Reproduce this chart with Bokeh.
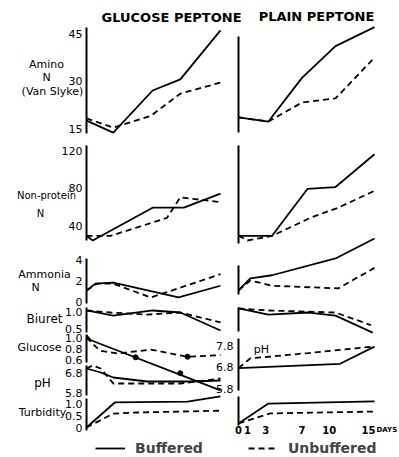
from bokeh.plotting import figure
from bokeh.models import Range1d, Legend, LegendItem
from bokeh.core.properties import value
from bokeh.embed import file_html
from bokeh.resources import INLINE

W, H = 399, 457

# ---------------- data (days, values) ----------------
# Glucose peptone (left column)
gp_amino_b_days = [0, 3, 7.4, 10.5, 15]
gp_amino_b = [17.5, 13.7, 27.0, 30.5, 46.0]
gp_amino_u_days = [0, 3, 7.2, 10.5, 15]
gp_amino_u = [18.2, 15.3, 19.0, 26.0, 29.5]

gp_npn_b_days = [0, 0.7, 7.4, 10.9, 15]
gp_npn_b = [29, 24, 59, 59, 74]
gp_npn_u_days = [0, 2.7, 9.0, 10.5, 15]
gp_npn_u = [29, 29, 48, 70, 65]

gp_nh3_b_days = [0, 1, 3, 10.3, 15]
gp_nh3_b = [1.05, 1.7, 1.8, 0.4, 1.5]
gp_nh3_u_days = [0, 1.2, 3, 7.2, 15]
gp_nh3_u = [1.05, 1.7, 1.7, 0.38, 2.6]

gp_biuret_b_days = [0, 3, 7.4, 10.5, 15]
gp_biuret_b = [1.03, 0.88, 1.03, 0.97, 0.44]
gp_biuret_u_days = [0, 2.7, 6.8, 10.5, 15]
gp_biuret_u = [1.03, 0.97, 0.91, 0.97, 0.68]

gp_glucose_b_days = [0, 0.5, 15]
gp_glucose_b = [1.04, 0.95, 0.04]
gp_glucose_b_mark_days = [5.5, 10.5]
gp_glucose_b_marks = [0.64, 0.35]
gp_glucose_u_days = [0, 1.5, 3.5, 7.2, 11.3, 15]
gp_glucose_u = [1.0, 0.76, 0.71, 0.78, 0.65, 0.68]
gp_glucose_u_mark_days = [11.3]
gp_glucose_u_marks = [0.65]

gp_ph_b_days = [0, 1.6, 3, 6.8, 11.6, 15]
gp_ph_b = [7.0, 6.8, 6.55, 6.35, 6.35, 6.4]
gp_ph_u_days = [0, 0.7, 1.6, 3, 10.5, 15]
gp_ph_u = [7.0, 7.15, 7.0, 6.25, 6.25, 6.5]

gp_turb_b_days = [0, 3.2, 11.3, 15]
gp_turb_b = [0, 1.05, 1.08, 1.3]
gp_turb_u_days = [0, 3, 5.2, 15]
gp_turb_u = [0, 0.58, 0.62, 0.7]

# Plain peptone (right column)
pp_amino_b_days = [0, 3.3, 7, 10.7, 15]
pp_amino_b = [18.5, 17.2, 31, 41, 47]
pp_amino_u_days = [0, 3.3, 7, 10.7, 15]
pp_amino_u = [18.5, 17.2, 23.2, 24.5, 37.4]

pp_npn_b_days = [0, 3.7, 7.6, 10.7, 15]
pp_npn_b = [29, 29, 79, 81, 116]
pp_npn_u_days = [0, 1, 3.7, 8, 11, 15]
pp_npn_u = [29, 24, 29, 48.5, 59, 77]

pp_nh3_b_days = [0, 1.3, 3.7, 10.7, 15]
pp_nh3_b = [1.05, 2.2, 2.5, 4.1, 6.0]
pp_nh3_u_days = [0, 1.3, 3.7, 11, 15]
pp_nh3_u = [1.05, 2.0, 1.5, 1.25, 3.2]

pp_biuret_b_days = [0, 3.3, 7.7, 10.7, 14.8]
pp_biuret_b = [1.09, 0.91, 0.97, 0.88, 0.38]
pp_biuret_u_days = [0, 3.3, 10.7, 14.6]
pp_biuret_u = [1.09, 1.03, 0.97, 0.6]

pp_ph_b_days = [0, 11.2, 15]
pp_ph_b = [6.75, 6.95, 7.75]
pp_ph_u_days = [0, 1.3, 7.7, 14.8]
pp_ph_u = [6.75, 7.2, 7.45, 7.75]

pp_turb_b_days = [0, 3.3, 15]
pp_turb_b = [0, 0.83, 0.92]
pp_turb_u_days = [0, 3.5, 15.2]
pp_turb_u = [0, 0.42, 0.5]

# tick labels
amino_ticks = [15, 30, 45]
npn_ticks = [40, 80, 120]
nh3_ticks = [0, 2, 4]
biuret_ticks = [0.5, 1.0]
glucose_ticks = [0.6, 0.8, 1.0]
ph_ticks = [5.8, 6.8]
turb_ticks = [0, 0.5, 1.0]
ph_r_ticks = [5.8, 6.8, 7.8]
day_ticks = [0, 1, 3, 7, 10]
day_last = [15]

# ---------------- layout calibration ----------------
LEFT_X = (86, 220)     # pixel of day 0 and day 15
RIGHT_X = (238, 374)
CAL = {
    "amino": ((15, 128), (45, 33)),
    "npn": ((40, 225), (120, 150)),
    "nh3": ((0, 301), (4, 259)),
    "biuret": ((0.5, 328), (1.0, 311)),
    "glucose": ((0.6, 359), (1.0, 337)),
    "ph": ((5.8, 392), (6.8, 372)),
    "turb": ((0, 427), (1.0, 403)),
    "ph_r": ((5.8, 388), (7.8, 345)),
    "turb_r": ((0, 423), (1.0, 399)),
}


def xrange_from(px0, px15):
    k = 15.0 / (px15 - px0)
    start = -px0 * k
    return Range1d(start=start, end=start + W * k)


def yrange_from(cal):
    (v1, p1), (v2, p2) = cal
    k = (v2 - v1) / (p1 - p2)
    return Range1d(start=v1 - (H - p1) * k, end=v1 + p1 * k)


p = figure(width=W, height=H, x_range=Range1d(0, W), y_range=Range1d(H, 0),
           x_axis_type=None, y_axis_type=None, min_border=0,
           toolbar_location=None, output_backend="svg",
           outline_line_color=None, background_fill_color="white")
p.extra_x_ranges = {"L": xrange_from(*LEFT_X), "R": xrange_from(*RIGHT_X)}
p.extra_y_ranges = {k: yrange_from(v) for k, v in CAL.items()}

LW = 1.8
DASH = "6 4"


def draw(side, panel, d, v, dashed):
    return p.line(d, v, x_range_name=side, y_range_name=panel,
                  line_color="black", line_width=LW,
                  line_dash=DASH if dashed else "solid")


r_b = draw("L", "amino", gp_amino_b_days, gp_amino_b, False)
r_u = draw("L", "amino", gp_amino_u_days, gp_amino_u, True)
draw("L", "npn", gp_npn_b_days, gp_npn_b, False)
draw("L", "npn", gp_npn_u_days, gp_npn_u, True)
draw("L", "nh3", gp_nh3_b_days, gp_nh3_b, False)
draw("L", "nh3", gp_nh3_u_days, gp_nh3_u, True)
draw("L", "biuret", gp_biuret_b_days, gp_biuret_b, False)
draw("L", "biuret", gp_biuret_u_days, gp_biuret_u, True)
draw("L", "glucose", gp_glucose_b_days, gp_glucose_b, False)
draw("L", "glucose", gp_glucose_u_days, gp_glucose_u, True)
draw("L", "ph", gp_ph_b_days, gp_ph_b, False)
draw("L", "ph", gp_ph_u_days, gp_ph_u, True)
draw("L", "turb", gp_turb_b_days, gp_turb_b, False)
draw("L", "turb", gp_turb_u_days, gp_turb_u, True)
p.scatter(gp_glucose_b_mark_days, gp_glucose_b_marks, x_range_name="L",
          y_range_name="glucose", size=5, color="black")
p.scatter(gp_glucose_u_mark_days, gp_glucose_u_marks, x_range_name="L",
          y_range_name="glucose", size=5, color="black")

draw("R", "amino", pp_amino_b_days, pp_amino_b, False)
draw("R", "amino", pp_amino_u_days, pp_amino_u, True)
draw("R", "npn", pp_npn_b_days, pp_npn_b, False)
draw("R", "npn", pp_npn_u_days, pp_npn_u, True)
draw("R", "nh3", pp_nh3_b_days, pp_nh3_b, False)
draw("R", "nh3", pp_nh3_u_days, pp_nh3_u, True)
draw("R", "biuret", pp_biuret_b_days, pp_biuret_b, False)
draw("R", "biuret", pp_biuret_u_days, pp_biuret_u, True)
draw("R", "ph_r", pp_ph_b_days, pp_ph_b, False)
draw("R", "ph_r", pp_ph_u_days, pp_ph_u, True)
draw("R", "turb_r", pp_turb_b_days, pp_turb_b, False)
draw("R", "turb_r", pp_turb_u_days, pp_turb_u, True)

# broken axis lines (pixel layout)
left_axis_spans = [(27, 133), (145, 240), (258, 303), (307, 332), (334, 362), (365, 395), (398, 430)]
right_axis_spans = [(36, 132), (145, 243), (265, 294), (307, 331), (338, 390), (396, 425)]
for xpix, spans in ((LEFT_X[0], left_axis_spans), (RIGHT_X[0], right_axis_spans)):
    p.segment(x0=[xpix] * len(spans), x1=[xpix] * len(spans),
              y0=[s[0] for s in spans], y1=[s[1] for s in spans],
              line_color="black", line_width=2)

FONT = value("DejaVu Sans")


def label(xs, ys, texts, size, align="center", style="normal", **kw):
    p.text(x=xs, y=ys, text=texts, text_font=FONT, text_font_size=size,
           text_font_style=style, text_align=align, text_baseline="middle",
           text_color="black", **kw)


# y tick labels
def ticks(xpix, panel, vals, fmt):
    label([xpix] * len(vals), vals, [fmt(v) for v in vals], "11px",
          align="right", y_range_name=panel)


ticks(82, "amino", amino_ticks, lambda v: str(v))
ticks(82, "npn", npn_ticks, lambda v: str(v))
ticks(82, "nh3", nh3_ticks, lambda v: str(v))
ticks(82, "biuret", biuret_ticks, lambda v: f"{v:.1f}")
ticks(82, "glucose", glucose_ticks, lambda v: f"{v:.1f}")
ticks(82, "ph", ph_ticks, lambda v: f"{v:.1f}")
ticks(82, "turb", turb_ticks, lambda v: "0" if v == 0 else f"{v:.1f}")
ticks(233, "ph_r", ph_r_ticks, lambda v: f"{v:.1f}")

# x tick labels (right column)
label(day_ticks, [429] * len(day_ticks), [str(d) for d in day_ticks], "10px",
      style="bold", x_range_name="R")
p.text(x=day_last, y=[429], text=["15"], x_range_name="R", x_offset=1,
       text_font=FONT, text_font_size="10px", text_font_style="bold",
       text_align="right", text_baseline="middle", text_color="black")
p.text(x=day_last, y=[429], text=["DAYS"], x_range_name="R", x_offset=2,
       text_font=FONT, text_font_size="7px", text_font_style="bold",
       text_align="left", text_baseline="middle", text_color="black")

# row labels
label([46, 46, 52], [64, 77, 91], ["Amino", "N", "(Van Slyke)"], "11px")
label([46, 40], [195, 213], ["Non-protein", "N"], "10px")
label([44, 35], [274, 287], ["Ammonia", "N"], "11px")
label([44], [318], ["Biuret"], "12px")
label([39], [347], ["Glucose"], "11px")
label([42], [382], ["pH"], "12px")
label([42], [412], ["Turbidity"], "11px")
label([261], [349], ["pH"], "11px")

# column titles
label([171, 316], [17, 16], ["GLUCOSE PEPTONE", "PLAIN PEPTONE"], "13px", style="bold")

legend = Legend(items=[LegendItem(label="Buffered", renderers=[r_b]),
                       LegendItem(label="Unbuffered", renderers=[r_u])],
                location=(95, 0), orientation="horizontal",
                glyph_width=30, glyph_height=18, label_standoff=10, spacing=45,
                padding=0, margin=0, border_line_color=None,
                background_fill_alpha=0,
                label_text_font="DejaVu Sans", label_text_font_size="14px",
                label_text_font_style="bold")
p.add_layout(legend)

open("out.html", "w").write(file_html(p, INLINE))
